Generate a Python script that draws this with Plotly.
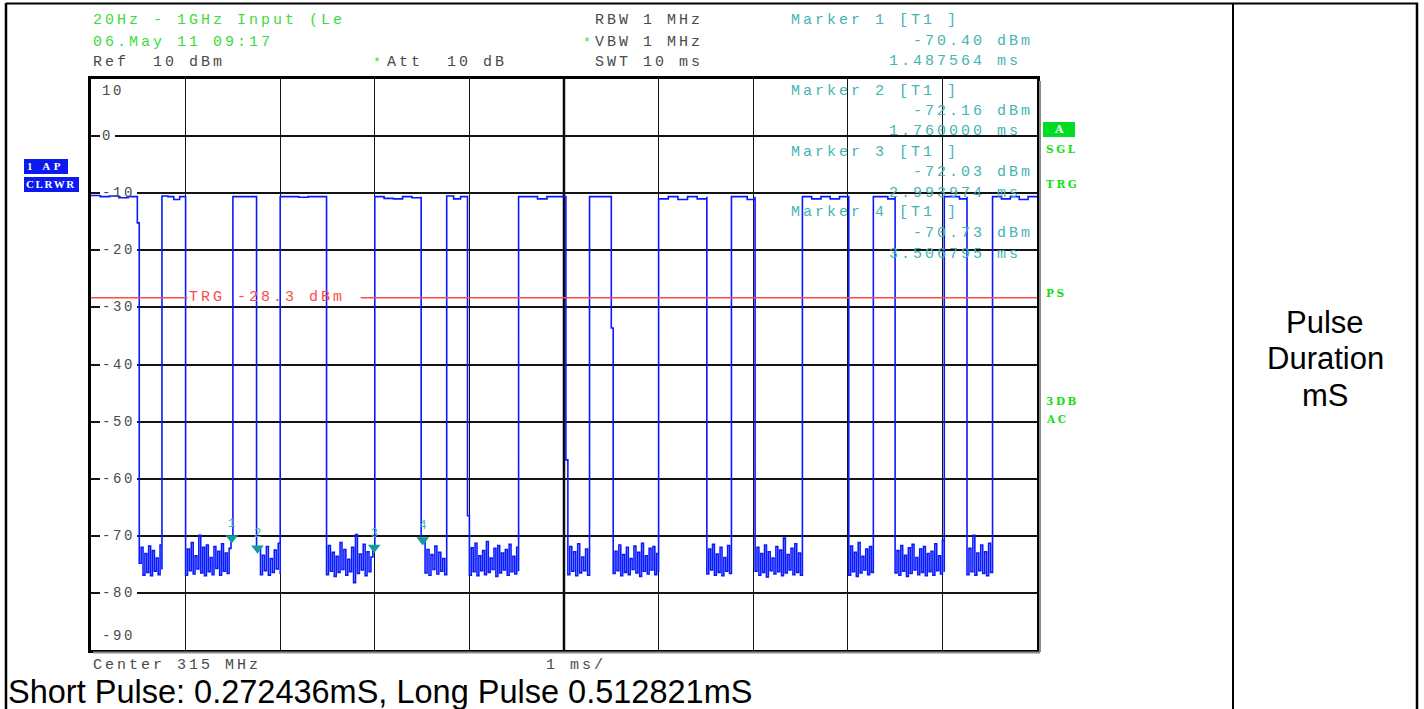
import numpy as np
import plotly.graph_objects as go

W, H = 1424, 709

# ---- instrument settings -------------------------------------------------
ref_level_dbm = 10
attenuation_db = 10
rbw_mhz = 1
vbw_mhz = 1
sweep_ms = 10
center_mhz = 315
trigger_dbm = -28.3
short_pulse_ms = 0.272436
long_pulse_ms = 0.512821

level_ticks = [10, 0, -10, -20, -30, -40, -50, -60, -70, -80, -90]

# ---- zero-span trace: pulse edges (ms) and levels (dBm) -------------------
pulse_on = [0.00, 0.75, 1.50, 2.00, 3.00, 3.76, 4.52, 5.27, 6.00, 6.77, 7.52, 8.27, 9.02, 9.53]
pulse_off = [0.49, 1.00, 1.75, 2.49, 3.49, 3.98, 5.02, 5.50, 6.51, 7.02, 8.01, 8.50, 9.26, 10.00]

pulse_tops = [
    [-10.4, -10.6, -10.5, -10.8, -10.6, -10.6],
    [-10.5, -10.6, -11.1, -10.6, -10.7],
    [-10.6, -10.6, -10.6, -10.7],
    [-10.6, -10.6, -10.7, -10.6, -10.6, -10.7],
    [-10.6, -10.9, -11.0, -10.6, -10.8, -10.6],
    [-10.5, -11.0, -10.6, -10.6],
    [-10.6, -10.6, -11.0, -10.6, -10.6, -10.6],
    [-10.6, -10.6, -10.6, -10.6],
    [-11.0, -10.6, -11.1, -10.6, -11.0, -10.6],
    [-10.6, -10.6, -11.1, -10.6],
    [-10.6, -11.0, -10.6, -11.0, -10.6, -10.6],
    [-10.6, -10.6, -11.0, -10.6],
    [-10.6, -10.6, -11.0, -10.6],
    [-10.6, -11.0, -10.6, -11.1, -10.6, -10.6],
]

# noise floor between pulses (one list per gap, 0.02 ms steps)
noise_01 = [-15.2, -74.8, -72.0, -76.9, -73.1, -76.4, -71.8, -77.0, -72.6, -76.2, -73.9, -76.8, -71.6, -75.9]
noise_02 = [-76.9, -72.3, -76.1, -71.2, -76.7, -73.5, -75.8, -69.9, -76.5, -72.0, -77.0, -71.6, -76.3,
            -73.8, -76.8, -71.9, -75.7, -72.7, -76.9, -71.4, -76.2, -73.0, -76.6, -72.2, -70.4, -70.4]
noise_03 = [-72.2, -72.2, -76.8, -73.4, -76.1, -71.9, -76.9, -74.0, -76.4, -72.5, -75.8, -71.3, -76.7]
noise_04 = [-76.8, -71.7, -76.2, -72.9, -77.1, -73.6, -76.4, -71.2, -75.9, -72.4, -76.9, -74.1, -76.3,
            -72.0, -78.2, -69.8, -76.6, -73.2, -76.0, -71.5, -77.0, -72.8, -76.3, -73.7, -72.0, -72.0]
noise_05 = [-70.7, -70.7, -76.5, -72.4, -76.9, -73.3, -75.9, -71.8, -76.7, -72.9, -76.2, -74.0, -76.8, -71.6]
noise_06 = [-66.5, -76.9, -72.1, -76.3, -71.3, -77.0, -73.5, -76.1, -72.6, -76.8, -71.0, -76.4, -73.9, -75.9,
            -72.2, -77.1, -71.7, -76.5, -73.0, -76.0, -72.4, -76.9, -71.5, -76.3, -73.6, -76.7, -72.0, -76.2]
noise_07 = [-56.7, -76.8, -71.9, -76.2, -72.8, -77.0, -71.4, -76.5, -73.7, -76.1, -72.3, -76.9, -72.9]
noise_08 = [-33.6, -76.6, -72.7, -76.1, -71.6, -77.0, -73.3, -76.4, -72.0, -76.8, -74.0, -75.9, -71.8,
            -76.5, -72.9, -77.1, -71.3, -76.2, -73.5, -76.7, -72.2, -76.0, -71.9, -76.8, -73.1, -76.3]
noise_09 = [-76.7, -72.3, -76.0, -71.5, -76.9, -73.2, -76.4, -72.0, -77.0, -73.8, -76.2, -71.7, -76.6, -72.6]
noise_10 = [-76.2, -72.0, -76.9, -73.1, -76.4, -71.6, -77.2, -72.8, -76.1, -73.9, -76.7, -71.9, -76.3,
            -72.5, -77.0, -70.4, -76.5, -73.3, -76.0, -72.2, -76.8, -71.4, -76.4, -73.0, -76.9, -72.4]
noise_11 = [-76.9, -71.8, -76.3, -72.9, -77.1, -71.2, -76.5, -73.6, -76.0, -72.3, -76.8, -71.9, -76.4, -73.0]
noise_12 = [-76.5, -72.6, -76.9, -71.7, -76.2, -73.4, -77.1, -72.1, -76.6, -71.5, -76.0, -73.8, -76.8, -72.3,
            -76.4, -71.9, -77.0, -73.1, -76.3, -72.7, -76.9, -71.4, -76.1, -73.5, -76.7, -70.8, -76.3]
noise_13 = [-76.8, -72.2, -76.3, -69.9, -76.9, -73.0, -76.1, -71.6, -76.6, -72.8, -77.0, -71.3, -76.4, -72.5]
gap_noise = [noise_01, noise_02, noise_03, noise_04, noise_05, noise_06, noise_07,
             noise_08, noise_09, noise_10, noise_11, noise_12, noise_13]

# markers
marker_ids = ["1", "2", "3", "4"]
marker_ms = [1.487564, 1.760000, 2.993974, 3.506795]
marker_dbm = [-70.40, -72.16, -72.03, -70.73]

# ---- colours / fonts ------------------------------------------------------
TRACE = "#0A1AFF"
GREEN = "#3CDC3C"
GREEN_BOLD = "#14E014"
TEAL = "#45B4B4"
GREY = "#4A4A4A"
RED = "#FF4A4A"
MONO = "Liberation Mono"
NBSP = "\u00a0"

# plot frame position in pixels
X0_PX, X1_PX = 91, 1037
Y_TOP_PX, Y_BOT_PX = 79, 650


def px(x):
    return x / W


def py(y):
    return 1 - y / H


def spaced(text, ls):
    return f'<span style="letter-spacing:{ls}px">{text.replace(" ", NBSP)}</span>'


# ---- assemble the trace ---------------------------------------------------
xs, ys = [], []
for i, (t_on, t_off) in enumerate(zip(pulse_on, pulse_off)):
    top = pulse_tops[i]
    xs += list(np.linspace(t_on, t_off, len(top)))
    ys += top
    if i < len(gap_noise):
        g = gap_noise[i]
        xs += list(np.linspace(t_off, pulse_on[i + 1], len(g)))
        ys += g

fig = go.Figure()
fig.add_trace(go.Scatter(x=xs, y=ys, mode="lines", line=dict(color=TRACE, width=1.6, shape="hv"),
                         hoverinfo="skip"))
fig.add_trace(go.Scatter(
    x=marker_ms, y=marker_dbm, mode="markers+text", text=marker_ids,
    textposition="top center",
    textfont=dict(family=MONO, size=12, color=TEAL),
    marker=dict(symbol="triangle-down", size=11, color="#139C9C"),
    cliponaxis=False, hoverinfo="skip"))

shapes = []
annotations = []


def add_text(text, x, y, color, size=15, family=MONO, ls=3.0, xanchor="left", yanchor="middle"):
    annotations.append(dict(
        x=px(x), y=py(y), xref="paper", yref="paper", showarrow=False,
        text=spaced(text, ls) if ls else text, xanchor=xanchor, yanchor=yanchor,
        font=dict(family=family, size=size, color=color), borderpad=0))


def add_line(x0, y0, x1, y1, color="black", width=2):
    shapes.append(dict(type="line", xref="paper", yref="paper",
                       x0=px(x0), y0=py(y0), x1=px(x1), y1=py(y1),
                       line=dict(color=color, width=width)))


# ---- header ---------------------------------------------------------------
add_text("20Hz - 1GHz Input (Le", 92, 21, GREEN)
add_text("06.May 11 09:17", 92, 42, GREEN)
add_text(f"Ref  {ref_level_dbm} dBm", 92, 63, GREY)
add_text("*", 372, 63, GREEN, size=13, ls=0)
add_text(f"Att  {attenuation_db} dB", 386, 63, GREY)
add_text(f"RBW {rbw_mhz} MHz", 594, 21, GREY)
add_text("*", 582, 42, GREEN, size=13, ls=0)
add_text(f"VBW {vbw_mhz} MHz", 594, 42, GREY)
add_text(f"SWT {sweep_ms} ms", 594, 63, GREY)

# marker readouts
readout_rows = [21, 91, 152, 213]
for mid, t, v, y in zip(marker_ids, marker_ms, marker_dbm, readout_rows):
    add_text(f"Marker {mid} [T1 ]", 790, y, TEAL)
    add_text(f"{v:.2f} dBm", 912, y + 20.5, TEAL)
    add_text(f"{t:.6f} ms", 888, y + 41, TEAL)

# ---- level labels inside the graticule ------------------------------------
for lv in level_ticks:
    lab = f"{lv}"
    if lv == level_ticks[0]:
        yv = lv - 2.1
    elif lv == level_ticks[-1]:
        yv = lv + 2.5
    else:
        yv = lv
        # break the graticule line behind the label
        shapes.append(dict(type="rect", xref="paper", yref="y", layer="above",
                           x0=px(100), x1=px(101 + 11 * len(lab) + 3),
                           y0=lv - 0.28, y1=lv + 0.28,
                           fillcolor="white", line=dict(width=0)))
    annotations.append(dict(x=px(101), y=yv, xref="paper", yref="y", showarrow=False,
                            text=spaced(lab, 2.6), xanchor="left", yanchor="middle",
                            font=dict(family=MONO, size=14, color=GREY), borderpad=0))

# centre division line
shapes.append(dict(type="line", xref="x", yref="y", layer="below",
                   x0=sweep_ms / 2, x1=sweep_ms / 2, y0=-90, y1=10,
                   line=dict(color="black", width=2.5)))

# trigger level line with its label
shapes.append(dict(type="line", xref="x", yref="y", x0=0, x1=1.02,
                   y0=trigger_dbm, y1=trigger_dbm, line=dict(color=RED, width=1.6)))
shapes.append(dict(type="line", xref="x", yref="y", x0=2.85, x1=sweep_ms,
                   y0=trigger_dbm, y1=trigger_dbm, line=dict(color=RED, width=1.6)))
annotations.append(dict(x=1.03, y=trigger_dbm, xref="x", yref="y", showarrow=False,
                        text=spaced(f"TRG {trigger_dbm} dBm", 3.0), xanchor="left",
                        yanchor="middle", font=dict(family=MONO, size=15, color=RED),
                        borderpad=0))

# frame shadow
add_line(1040, 81, 1040, 652, color="#8A8A8A", width=2)
add_line(93, 652.5, 1040, 652.5, color="#8A8A8A", width=2)

# ---- status boxes ---------------------------------------------------------
shapes.append(dict(type="rect", xref="paper", yref="paper", x0=px(24), x1=px(68),
                   y0=py(174), y1=py(159), fillcolor="#0A1AF0", line=dict(width=0)))
shapes.append(dict(type="rect", xref="paper", yref="paper", x0=px(24), x1=px(79),
                   y0=py(192), y1=py(177), fillcolor="#0A1AF0", line=dict(width=0)))
add_text("<b>1 AP</b>", 26, 166.5, "white", size=11, family="Liberation Serif", ls=3.5)
add_text("<b>CLRWR</b>", 25, 184.5, "white", size=11, family="Liberation Serif", ls=1.6)

shapes.append(dict(type="rect", xref="paper", yref="paper", x0=px(1043), x1=px(1075),
                   y0=py(137), y1=py(122), fillcolor="#00DD22", line=dict(width=0)))
add_text("<b>A</b>", 1059, 130, "white", size=11, family="DejaVu Serif", ls=0, xanchor="center")
for txt, yy in [("SGL", 149), ("TRG", 184), ("PS", 293), ("3DB", 401), ("AC", 419)]:
    add_text(f"<b>{txt}</b>", 1045, yy, GREEN_BOLD, size=10.5, family="DejaVu Serif", ls=2.6)

# ---- footer ---------------------------------------------------------------
add_text(f"Center {center_mhz} MHz", 92, 665, GREY)
add_text("1 ms/", 545, 665, GREY)
add_text(f"Short Pulse: {short_pulse_ms}mS, Long Pulse {long_pulse_ms}mS", 7, 692, "black",
         size=32.5, family="Liberation Sans", ls=0)

# right-hand table cell
for txt, yy in [("Pulse", 322), ("Duration", 358), ("mS", 395)]:
    add_text(txt, 1325, yy, "black", size=31, family="Liberation Sans", ls=0, xanchor="center")

# table borders
add_line(6, 3.5, 1418, 3.5, width=2)
add_line(6, 3, 6, 709, width=2.5)
add_line(1233, 3, 1233, 709, width=2)
add_line(1417, 3, 1417, 709, width=2.5)

fig.update_layout(
    width=W, height=H, autosize=False,
    margin=dict(l=0, r=0, t=0, b=0, pad=0),
    paper_bgcolor="white", plot_bgcolor="white", showlegend=False,
    xaxis=dict(domain=[px(X0_PX), px(X1_PX)], range=[0, sweep_ms], tick0=0, dtick=1,
               showgrid=True, gridcolor="#141414", gridwidth=1.2, zeroline=False,
               showticklabels=False, ticks="", showline=True, linecolor="black",
               linewidth=2.5, mirror=True, fixedrange=True),
    yaxis=dict(domain=[py(Y_BOT_PX), py(Y_TOP_PX)], range=[-90, 10], tick0=-90, dtick=10,
               showgrid=True, gridcolor="#141414", gridwidth=1.5, zeroline=False,
               showticklabels=False, ticks="", showline=True, linecolor="black",
               linewidth=2.5, mirror=True, fixedrange=True),
    shapes=shapes, annotations=annotations,
)

fig.write_html("out.html", config={"displayModeBar": False})
